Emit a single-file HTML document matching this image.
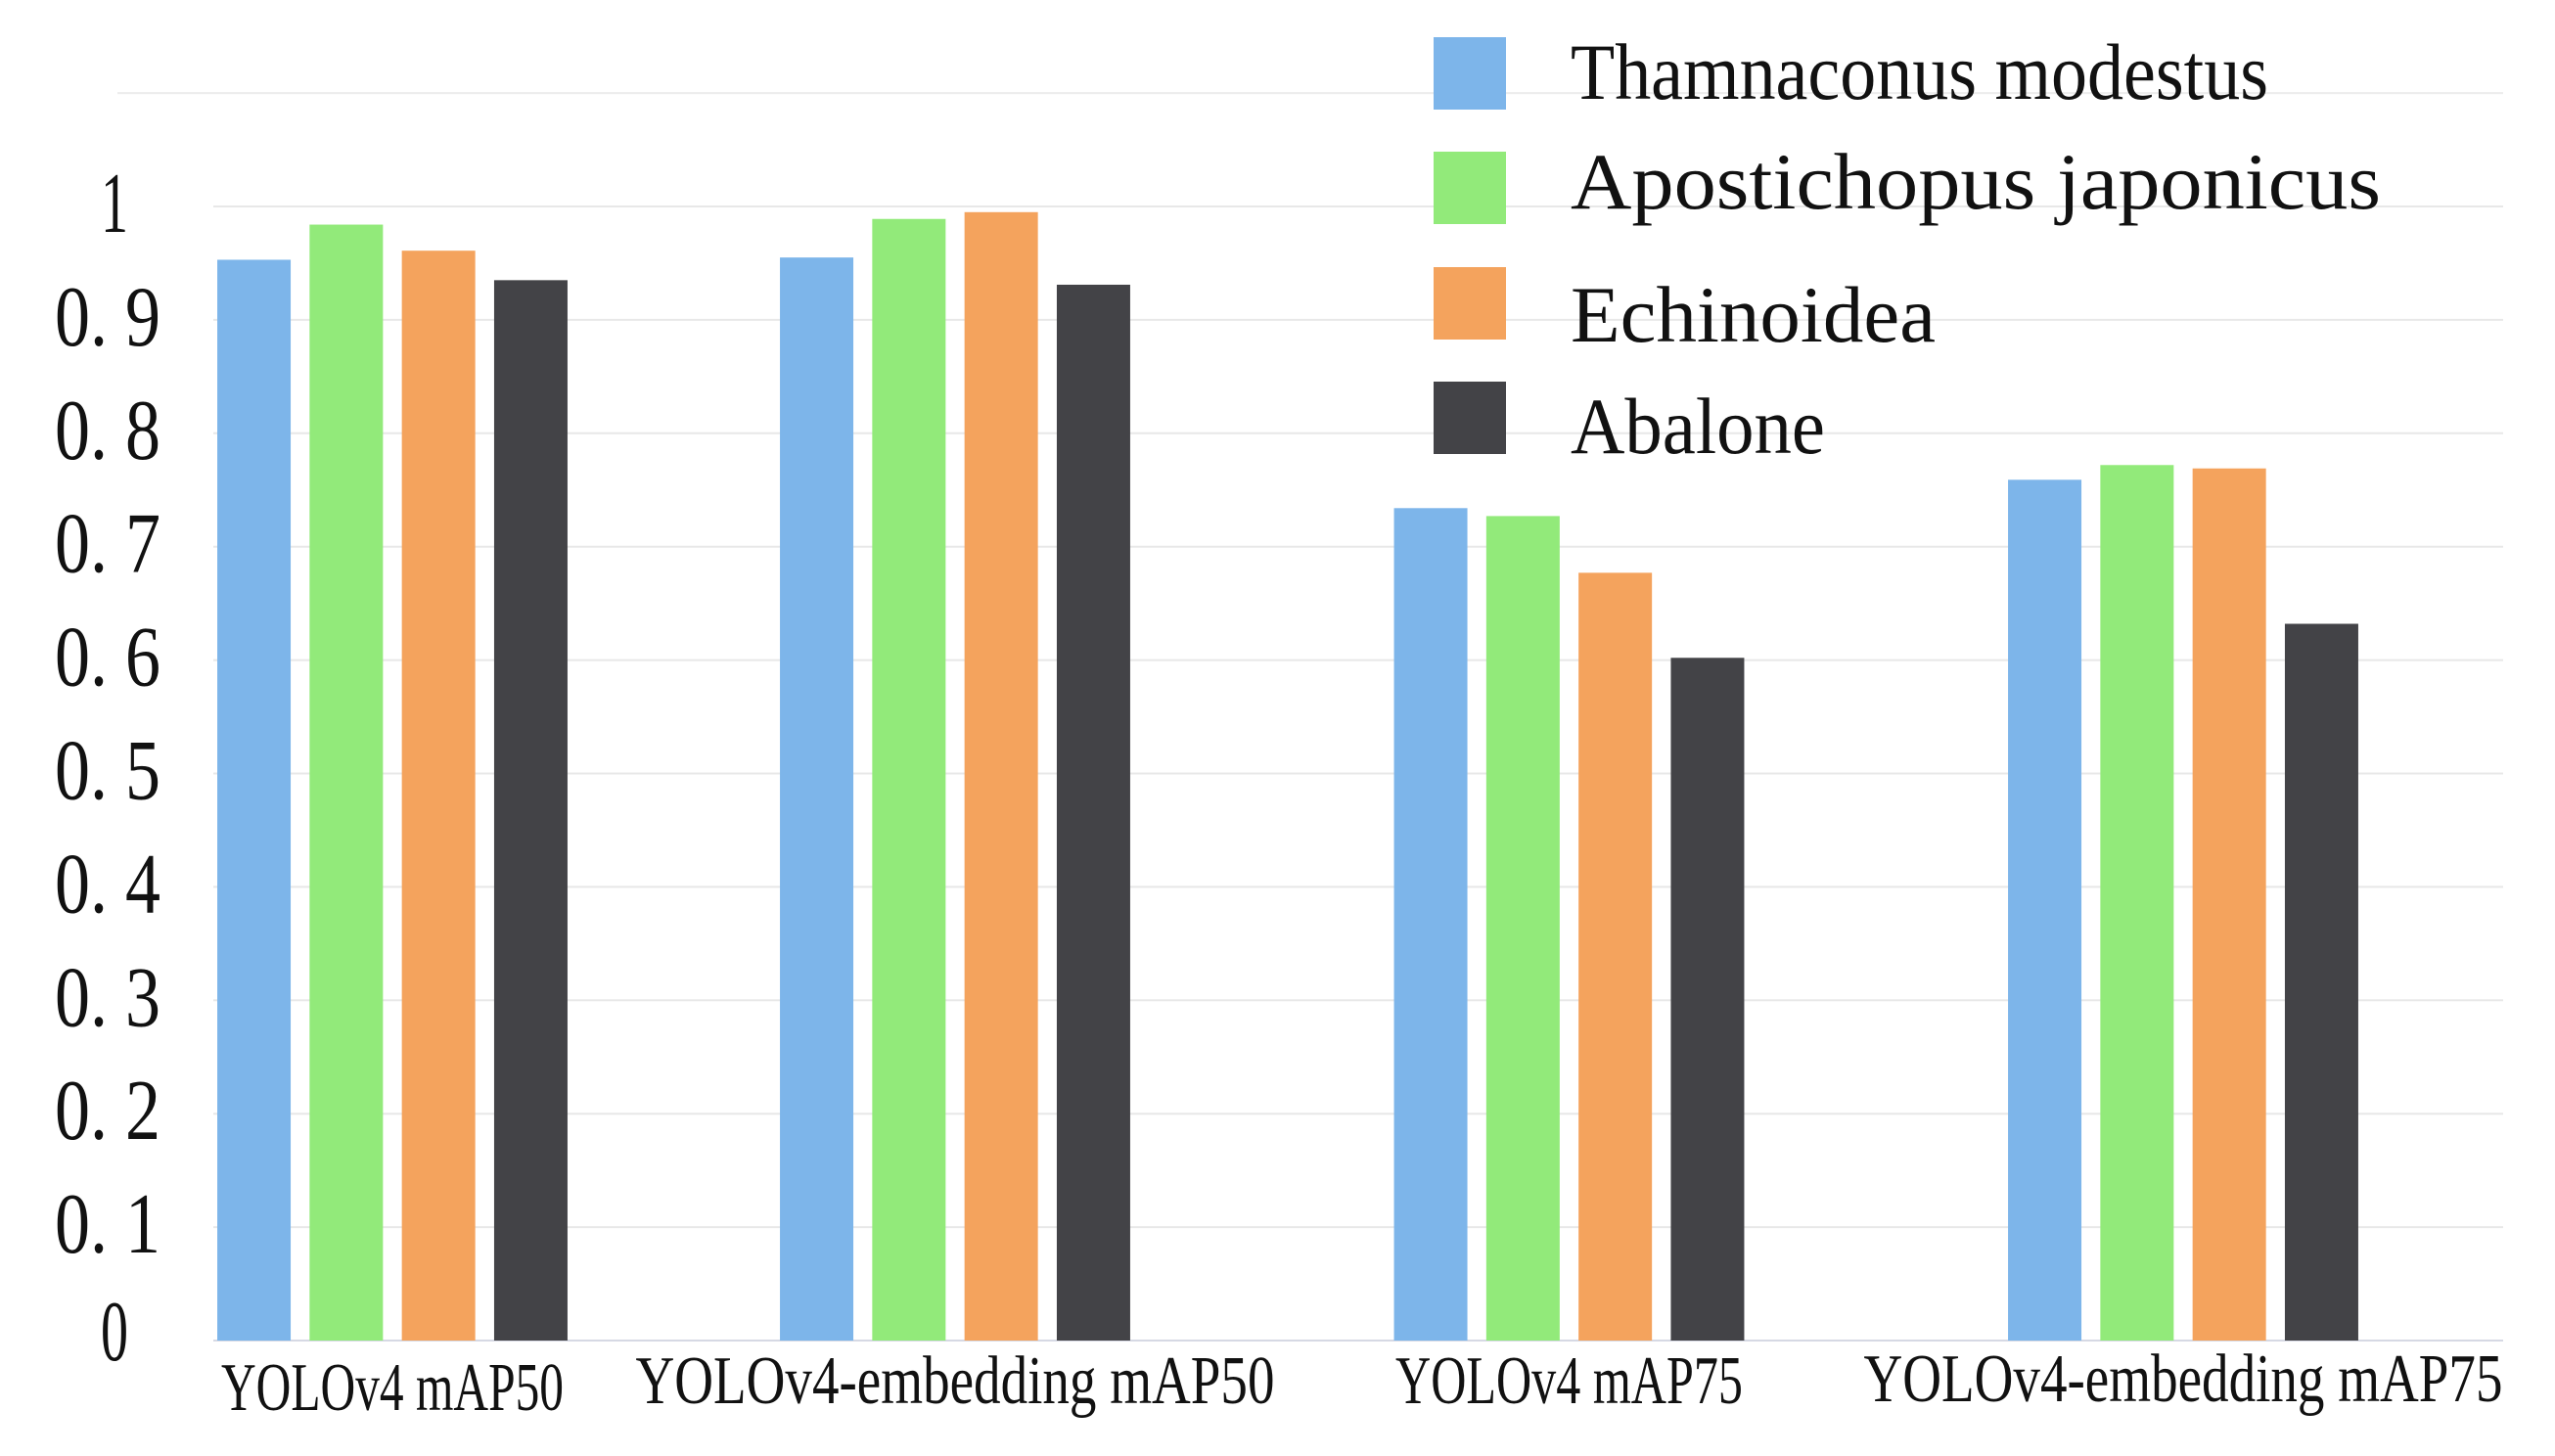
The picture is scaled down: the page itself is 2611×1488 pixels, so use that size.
<!DOCTYPE html>
<html><head><meta charset="utf-8"><style>
html,body{margin:0;padding:0;background:#fff;}
svg{display:block;}
text{font-family:"Liberation Serif","Noto Serif CJK SC",serif;fill:#111;}
</style></head><body>
<svg id="chart" width="2611" height="1488" viewBox="0 0 2611 1488" xmlns="http://www.w3.org/2000/svg">
<g id="grid"></g>
<g id="bars"></g>
<g id="yaxis"></g>
<g id="xaxis"></g>
<g id="legend"></g>
</svg>
<script>
const categories = ["YOLOv4 mAP50", "YOLOv4-embedding mAP50", "YOLOv4 mAP75", "YOLOv4-embedding mAP75"];
const seriesNames = ["Thamnaconus modestus", "Apostichopus japonicus", "Echinoidea", "Abalone"];
const thamnaconus = [0.953, 0.955, 0.734, 0.759];
const apostichopus = [0.984, 0.989, 0.727, 0.772];
const echinoidea = [0.961, 0.995, 0.677, 0.769];
const abalone = [0.935, 0.931, 0.602, 0.632];
const yTicks = [0, 0.1, 0.2, 0.3, 0.4, 0.5, 0.6, 0.7, 0.8, 0.9, 1];
const yTickLabels = ["0", "0. 1", "0. 2", "0. 3", "0. 4", "0. 5", "0. 6", "0. 7", "0. 8", "0. 9", "1"];

const series = [thamnaconus, apostichopus, echinoidea, abalone];
const colors = ["#7DB5EA", "#92EA7A", "#F4A35D", "#434347"];
const NS = "http://www.w3.org/2000/svg";
const y0 = 1370, pxPerUnit = 1159;
function yScale(v){ return y0 - v * pxPerUnit; }
function groupCenter(i){ return i === 0 ? 401 : 976 + (i - 1) * 627.5; }
const barW = 75, barStep = 94.3;
function barX(i, s){ return groupCenter(i) - (1.5 * barStep) + s * barStep - barW / 2; }
function mk(tag, attrs, parent){
  const e = document.createElementNS(NS, tag);
  for (const k in attrs) e.setAttribute(k, attrs[k]);
  parent.appendChild(e); return e;
}
const grid = document.getElementById('grid');
[0.1,0.2,0.3,0.4,0.5,0.6,0.7,0.8,0.9,1.0].forEach(v => {
  const l = mk('line', {x1:218, x2:2558, y1:yScale(v), y2:yScale(v), stroke:'#e8e8e8', 'stroke-width':2}, grid);
  
  
});
const topLine = mk('line', {x1:120, x2:2558, y1:yScale(1.1), y2:yScale(1.1), stroke:'#ececec', 'stroke-width':2}, grid);


const axisLine = mk('line', {x1:218, x2:2558, y1:y0, y2:y0, stroke:'#d6d9e4', 'stroke-width':2}, grid);



const bars = document.getElementById('bars');
series.forEach((vals, s) => {
  vals.forEach((v, i) => {
    const r = mk('rect', {x:barX(i,s), y:yScale(v), width:barW, height:y0 - yScale(v), fill:colors[s]}, bars);
    
    
  });
});

const yaxis = document.getElementById('yaxis');
yTicks.forEach((v, k) => {
  const lab = yTickLabels[k];
  const t = mk('text', {x:164, y:yScale(v)+26, 'text-anchor':'end', 'font-size':88}, yaxis);
  if (lab.length > 1) { t.setAttribute('textLength', 108); t.setAttribute('lengthAdjust', 'spacingAndGlyphs'); }
  else { t.setAttribute('x', 131); t.setAttribute('textLength', 28); t.setAttribute('lengthAdjust','spacingAndGlyphs'); if (v === 0) t.setAttribute('y', yScale(v)+20); }
  t.textContent = lab;
  
  
});

const xaxis = document.getElementById('xaxis');
const xLabelW = [350, 653, 355, 653];
const xLabelBase = [1441, 1434, 1434, 1432];
categories.forEach((c, i) => {
  const t = mk('text', {x:groupCenter(i), y:xLabelBase[i], 'text-anchor':'middle', 'font-size':70, textLength:xLabelW[i], lengthAdjust:'spacingAndGlyphs'}, xaxis);
  t.textContent = c;
  
  
});

const legend = document.getElementById('legend');
const legY = [38, 155, 273, 390];
const legBase = [101, 213, 349, 463];
const legW = [713, 828, 373, 260];
seriesNames.forEach((n, s) => {
  const g = mk('g', {}, legend);
  
  
  const r = mk('rect', {x:1465, y:legY[s], width:74, height:74, fill:colors[s]}, g);
  
  
  const t = mk('text', {x:1605, y:legBase[s], 'font-size':82, textLength:legW[s], lengthAdjust:'spacingAndGlyphs'}, g);
  t.textContent = n;
  
  
});
</script>
</body></html>
